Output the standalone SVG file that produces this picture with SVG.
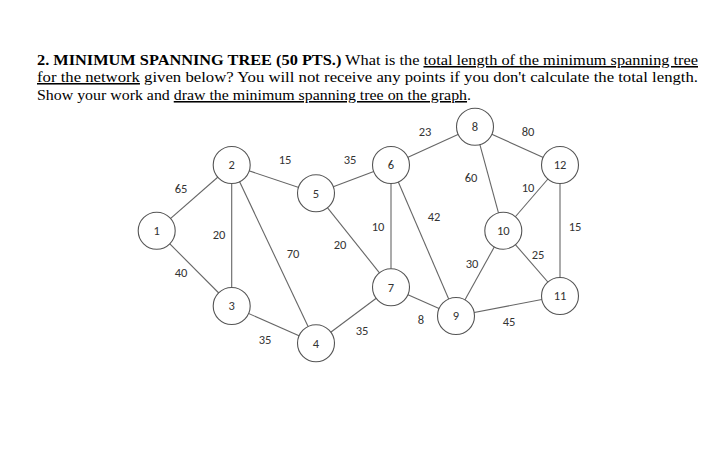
<svg xmlns="http://www.w3.org/2000/svg" width="715" height="472" viewBox="0 0 715 472">
<style>
.t{font-family:"Liberation Serif",serif;font-size:15.5px;fill:#000}
.u{text-decoration:underline}
.n circle{fill:#fff;stroke:#555;stroke-width:1.1}
.n text,.w text{font-family:Calibri,"Carlito","Liberation Sans",sans-serif;font-size:12.5px;fill:#333;text-anchor:middle}
.e line{stroke:#666;stroke-width:1.1}
</style>
<rect width="715" height="472" fill="#fff"/>
<text class="t" x="37" y="65" textLength="661" lengthAdjust="spacingAndGlyphs"><tspan font-weight="bold">2.  MINIMUM SPANNING TREE (50 PTS.)</tspan> What is the <tspan class="u">total length of the minimum spanning tree</tspan></text>
<text class="t" x="37" y="82" textLength="661" lengthAdjust="spacingAndGlyphs"><tspan class="u">for the network</tspan> given below? You will not receive any points if you don't calculate the total length.</text>
<text class="t" x="37" y="100" textLength="434" lengthAdjust="spacingAndGlyphs">Show your work and <tspan class="u">draw the minimum spanning tree on the graph</tspan>.</text>
<g class="e" id="connectors">
<line x1="156.7" y1="230.7" x2="231.7" y2="165"/>
<line x1="156.7" y1="230.7" x2="231.7" y2="306"/>
<line x1="231.7" y1="165" x2="231.7" y2="306"/>
<line x1="231.7" y1="165" x2="316" y2="193.3"/>
<line x1="231.7" y1="165" x2="316" y2="343.3"/>
<line x1="231.7" y1="306" x2="316" y2="343.3"/>
<line x1="316" y1="193.3" x2="391" y2="165"/>
<line x1="316" y1="193.3" x2="391" y2="287.3"/>
<line x1="391" y1="165" x2="391" y2="287.3"/>
<line x1="391" y1="165" x2="475" y2="126.7"/>
<line x1="391" y1="165" x2="456" y2="316"/>
<line x1="391" y1="287.3" x2="316" y2="343.3"/>
<line x1="391" y1="287.3" x2="456" y2="316"/>
<line x1="475" y1="126.7" x2="560" y2="165"/>
<line x1="475" y1="126.7" x2="503.3" y2="230.7"/>
<line x1="503.3" y1="230.7" x2="560" y2="165"/>
<line x1="503.3" y1="230.7" x2="456" y2="316"/>
<line x1="503.3" y1="230.7" x2="560" y2="296"/>
<line x1="560" y1="165" x2="560" y2="296"/>
<line x1="456" y1="316" x2="560" y2="296"/>
</g>
<g class="w" id="weights">
<text x="181" y="193">65</text><text x="181" y="277">40</text><text x="219" y="239">20</text>
<text x="285" y="164">15</text><text x="293" y="258">70</text><text x="350" y="164">35</text>
<text x="340" y="249">20</text><text x="378" y="231">10</text><text x="265" y="344">35</text>
<text x="362" y="335">35</text><text x="425" y="136">23</text><text x="421" y="324">8</text>
<text x="434" y="221">42</text><text x="471" y="182">60</text><text x="528" y="136">80</text>
<text x="528" y="192">10</text><text x="472" y="268">30</text><text x="538" y="259">25</text>
<text x="509" y="326">45</text><text x="575" y="231">15</text>
</g>
<g class="n" id="n1"><circle cx="156.7" cy="230.7" r="18.5"/><text x="156.7" y="235">1</text></g>
<g class="n" id="n2"><circle cx="231.7" cy="165" r="18.5"/><text x="231.7" y="169.3">2</text></g>
<g class="n" id="n3"><circle cx="231.7" cy="306" r="18.5"/><text x="231.7" y="310.3">3</text></g>
<g class="n" id="n4"><circle cx="316" cy="343.3" r="18.5"/><text x="316" y="347.6">4</text></g>
<g class="n" id="n5"><circle cx="316" cy="193.3" r="18.5"/><text x="316" y="197.6">5</text></g>
<g class="n" id="n6"><circle cx="391" cy="165" r="18.5"/><text x="391" y="169.3">6</text></g>
<g class="n" id="n7"><circle cx="391" cy="287.3" r="18.5"/><text x="391" y="291.6">7</text></g>
<g class="n" id="n8"><circle cx="475" cy="126.7" r="18.5"/><text x="475" y="131">8</text></g>
<g class="n" id="n9"><circle cx="456" cy="316" r="18.5"/><text x="456" y="320.3">9</text></g>
<g class="n" id="n10"><circle cx="503.3" cy="230.7" r="18.5"/><text x="503.3" y="235">10</text></g>
<g class="n" id="n11"><circle cx="560" cy="296" r="18.5"/><text x="560" y="300.3">11</text></g>
<g class="n" id="n12"><circle cx="560" cy="165" r="18.5"/><text x="560" y="169.3">12</text></g>
</svg>
